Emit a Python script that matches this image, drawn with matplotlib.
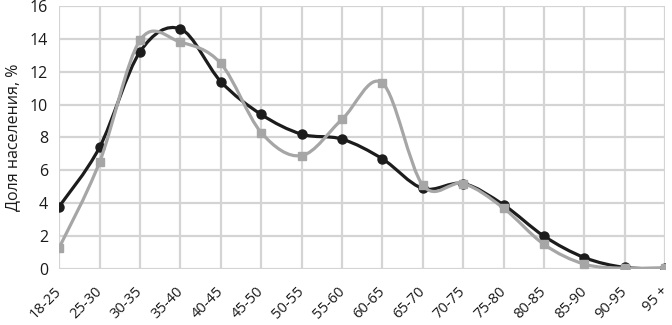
import numpy as np
import matplotlib.pyplot as plt
import matplotlib.transforms as mtransforms
from matplotlib.path import Path
from matplotlib.patches import PathPatch

plt.rcParams['font.family'] = ['Open Sans', 'DejaVu Sans']

age_groups = ['18-25', '25-30', '30-35', '35-40', '40-45', '45-50', '50-55', '55-60',
              '60-65', '65-70', '70-75', '75-80', '80-85', '85-90', '90-95', '95 +']
series_dark = [3.8, 7.4, 13.2, 14.6, 11.4, 9.4, 8.2, 7.9, 6.7, 4.9, 5.2, 3.9, 2.0, 0.7, 0.1, 0.05]
series_gray = [1.3, 6.5, 13.9, 13.8, 12.5, 8.3, 6.9, 9.1, 11.3, 5.1, 5.2, 3.7, 1.5, 0.3, 0.05, 0.05]


def smooth_path(x, y):
    # Excel-like smoothed line: cubic bezier segments through the points
    x = np.asarray(x, float)
    y = np.asarray(y, float)
    n = len(x)
    verts = [(x[0], y[0])]
    codes = [Path.MOVETO]
    for i in range(n - 1):
        i0 = max(i - 1, 0)
        i3 = min(i + 2, n - 1)
        c1 = (x[i] + (x[i + 1] - x[i0]) / 6, y[i] + (y[i + 1] - y[i0]) / 6)
        c2 = (x[i + 1] - (x[i3] - x[i]) / 6, y[i + 1] - (y[i3] - y[i]) / 6)
        verts += [c1, c2, (x[i + 1], y[i + 1])]
        codes += [Path.CURVE4] * 3
    return Path(verts, codes)


fig, ax = plt.subplots(figsize=(6.72, 3.25), dpi=100)
fig.subplots_adjust(left=0.088, right=0.99, top=0.982, bottom=0.172)

xs = np.arange(len(age_groups))
dark = '#1c1c1c'
gray = '#a6a6a6'

ax.add_patch(PathPatch(smooth_path(xs, series_dark), fill=False, edgecolor=dark, lw=2.3, zorder=3))
ax.plot(xs, series_dark, ls='none', marker='o', ms=6.5, color=dark, zorder=4)
ax.add_patch(PathPatch(smooth_path(xs, series_gray), fill=False, edgecolor=gray, lw=2.3, zorder=5))
ax.plot(xs, series_gray, ls='none', marker='s', ms=6, color=gray, zorder=6)

ax.set_xlim(0, len(age_groups) - 1)
ax.set_ylim(0, 16)
ax.set_yticks(range(0, 17, 2))
ax.set_xticks(xs)
ax.set_xticklabels(age_groups, rotation=45, ha='right', rotation_mode='anchor')
ax.tick_params(length=0, labelsize=11.5, colors='#1a1a1a')
ax.tick_params(axis='x', pad=9, labelsize=10.5)
ax.tick_params(axis='y', pad=8)
shift = mtransforms.ScaledTranslation(-5 / 100, -2 / 100, fig.dpi_scale_trans)
for lbl in ax.get_xticklabels():
    lbl.set_transform(lbl.get_transform() + shift)
ax.grid(True, color='#d4d4d4', lw=1.6)
ax.set_axisbelow(True)
for s in ax.spines.values():
    s.set_visible(False)
ax.set_ylabel('Доля населения, %', fontsize=11.5, color='#1a1a1a', labelpad=6)

plt.savefig('out.png')
